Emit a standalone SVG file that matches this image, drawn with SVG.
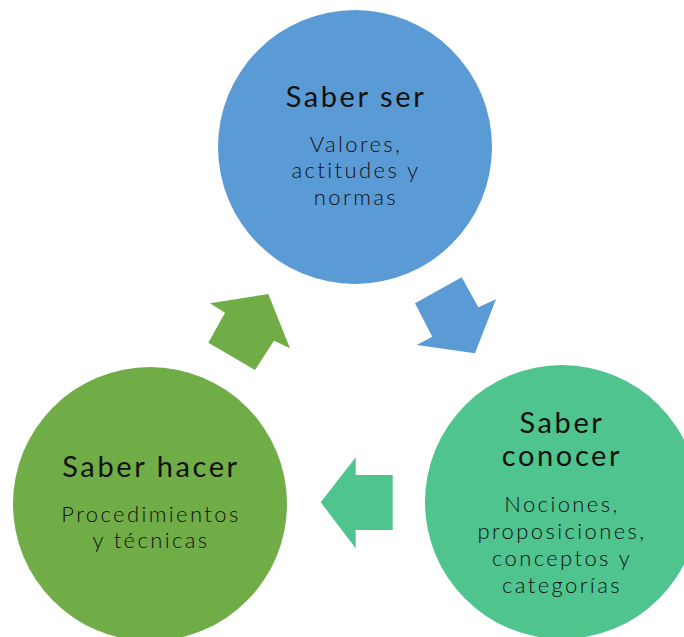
<svg xmlns="http://www.w3.org/2000/svg" width="684" height="637" viewBox="0 0 684 637">
<style>
.title{font-family:Lato,"Open Sans",sans-serif;font-size:29px;letter-spacing:2.6px;fill:#111;text-anchor:middle}
.body{font-family:Lato,"Open Sans",sans-serif;font-size:22px;font-weight:300;letter-spacing:2.4px;fill:#111;text-anchor:middle}
</style>
<rect width="684" height="637" fill="#fff"/>
<g id="connectors">
<polygon id="arrow-green" fill="#70AD47" points="268.3,294 290,348.3 274,340.7 255,370 208.3,342.7 225,312.7 210,303.3"/>
<polygon id="arrow-blue" fill="#5B9BD5" points="415,303.3 461.7,277.3 478.3,307.3 496,299.3 475,353.3 416.7,345 432.3,336.7"/>
<polygon id="arrow-teal" fill="#4FC48E" points="320.7,502.3 355.7,457.3 355.7,475 392.7,475 392.7,530 355.7,530 355.7,548.3"/>
</g>
<g id="saber-ser">
<circle cx="355" cy="147" r="137" fill="#5B9BD5"/>
<text class="title" x="356" y="107">Saber ser</text>
<text class="body" x="356" y="152">Valores,</text>
<text class="body" x="356" y="178">actitudes  y</text>
<text class="body" x="356" y="205">normas</text>
</g>
<g id="saber-hacer">
<circle cx="150" cy="504" r="137" fill="#70AD47"/>
<text class="title" x="151" y="477">Saber hacer</text>
<text class="body" x="151" y="522">Procedimientos</text>
<text class="body" x="151" y="548">y técnicas</text>
</g>
<g id="saber-conocer">
<circle cx="562" cy="502" r="137" fill="#4FC48E"/>
<text class="title" x="562" y="433">Saber</text>
<text class="title" x="562" y="466">conocer</text>
<text class="body" x="562" y="512">Nociones,</text>
<text class="body" x="562" y="539">proposiciones,</text>
<text class="body" x="562" y="566">conceptos y</text>
<text class="body" x="562" y="593">categorías</text>
</g>
</svg>
